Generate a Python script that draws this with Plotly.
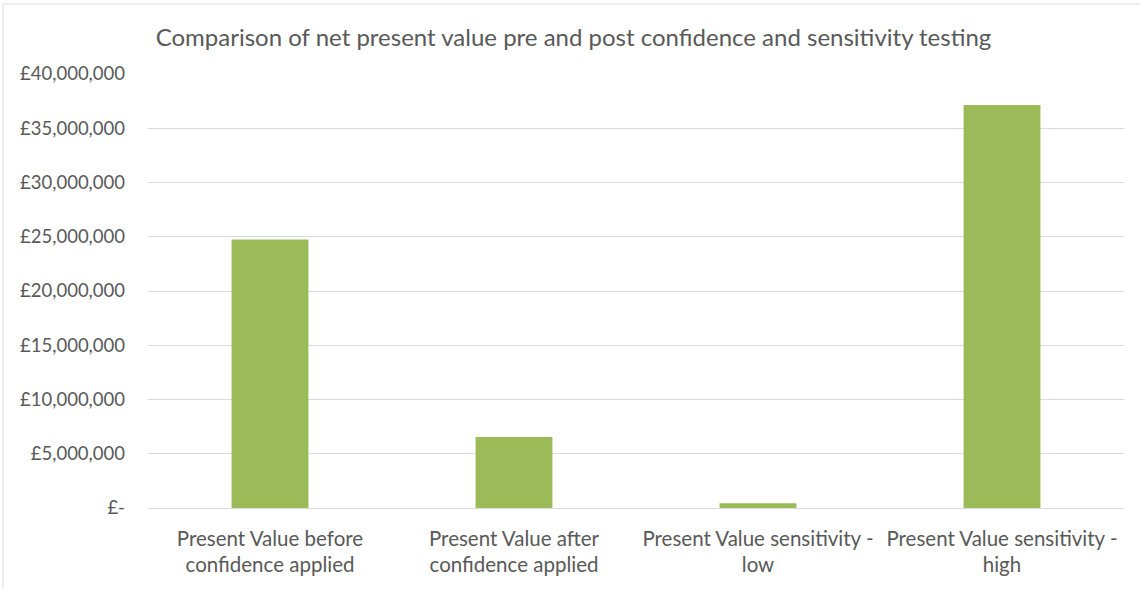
import plotly.graph_objects as go

categories = [
    "Present Value before<br>confidence applied",
    "Present Value after<br>confidence applied",
    "Present Value sensitivity -<br>low",
    "Present Value sensitivity -<br>high",
]
values = [24750000, 6550000, 430000, 37150000]
tick_vals = [0, 5000000, 10000000, 15000000, 20000000, 25000000, 30000000, 35000000, 40000000]
tick_text = ["£-", "£5,000,000", "£10,000,000", "£15,000,000", "£20,000,000",
             "£25,000,000", "£30,000,000", "£35,000,000", "£40,000,000"]

W, H = 1140, 589
L, R, T, B = 148, 16, 74, 81
pw, ph = W - L - R, H - T - B

fig = go.Figure(go.Bar(x=categories, y=values, marker=dict(color="#9bbb59", line=dict(width=0)),
                       width=0.315, hoverinfo="skip"))

fig.update_layout(
    width=W, height=H,
    margin=dict(l=L, r=R, t=T, b=B, autoexpand=False),
    paper_bgcolor="white", plot_bgcolor="white",
    font=dict(family="Lato, Carlito, Calibri, sans-serif", color="#595959", size=18),
    title=dict(text="Comparison of net present value pre and post confidence and sensitivity testing",
               x=(155 + 992) / 2 / W, xanchor="center", y=1 - 38 / H, yanchor="middle",
               font=dict(size=24, color="#595959")),
    showlegend=False,
    bargap=0.685,
)
fig.update_xaxes(showgrid=False, showline=False, zeroline=False, ticks="",
                 tickfont=dict(size=20.5, color="#595959"), ticklabelstandoff=16)
fig.update_yaxes(range=[0, 40000000], tickvals=tick_vals, ticktext=tick_text,
                 showgrid=True, gridcolor="#d9d9d9", gridwidth=1, zeroline=True,
                 zerolinecolor="#d9d9d9", zerolinewidth=1, showline=False, ticks="",
                 tickfont=dict(size=18.5, color="#595959"), ticklabelstandoff=22)

# chart area border (top and left edges visible)
fig.add_shape(type="line", xref="paper", yref="paper",
              x0=(3 - L) / pw, x1=(W + 10 - L) / pw, y0=(H - B - 4) / ph, y1=(H - B - 4) / ph,
              line=dict(color="#d9d9d9", width=1))
fig.add_shape(type="line", xref="paper", yref="paper",
              x0=(3 - L) / pw, x1=(3 - L) / pw, y0=(H - B - 4) / ph, y1=(-20 - B) / ph,
              line=dict(color="#d9d9d9", width=1))

fig.write_html("out.html", config={"displayModeBar": False},
               post_script="document.body.style.margin='0';document.body.style.overflow='hidden';")
